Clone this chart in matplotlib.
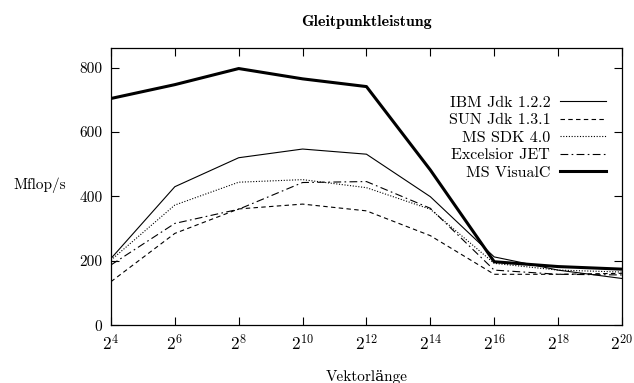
import math
import matplotlib
matplotlib.use("Agg")
import matplotlib.pyplot as plt
from matplotlib.ticker import FixedLocator, FuncFormatter, NullLocator

plt.rcParams['font.family'] = ['cmr10', 'DejaVu Serif']
plt.rcParams['mathtext.fontset'] = 'cm'
plt.rcParams['axes.unicode_minus'] = False

exponents = [4, 6, 8, 10, 12, 14, 16, 18, 20]
ibm = [207, 430, 520, 547, 531, 399, 212, 171, 145]
sun = [135, 285, 361, 376, 355, 278, 158, 158, 161]
mssdk = [202, 373, 444, 452, 427, 360, 192, 171, 165]
excelsior = [187, 316, 360, 443, 446, 363, 171, 158, 156]
visualc = [704, 747, 797, 765, 741, 482, 197, 182, 174]
labels = ["IBM Jdk 1.2.2", "SUN Jdk 1.3.1", "MS SDK 4.0", "Excelsior JET", "MS VisualC"]
yticks = [0, 200, 400, 600, 800]

x = [2 ** e for e in exponents]

fig = plt.figure(figsize=(6.34, 3.83), dpi=100)
ax = fig.add_axes([0.175, 0.151, 0.806, 0.723])

ax.plot(x, ibm, color='black', lw=0.8, ls='-', label=labels[0])
ax.plot(x, sun, color='black', lw=0.8, ls=(0, (4, 3)), label=labels[1])
ax.plot(x, mssdk, color='black', lw=0.8, ls=(0, (1, 1.5)), label=labels[2])
ax.plot(x, excelsior, color='black', lw=0.8, ls=(0, (7, 3, 1.5, 3)), label=labels[3])
ax.plot(x, visualc, color='black', lw=2.2, ls='-', label=labels[4])

ax.set_xscale('log', base=2)
ax.set_xlim(x[0], x[-1])
ax.set_ylim(0, 860)
ax.xaxis.set_major_locator(FixedLocator(x))
ax.xaxis.set_minor_locator(NullLocator())
ax.xaxis.set_major_formatter(FuncFormatter(lambda v, p: r'$2^{%d}$' % round(math.log2(v))))
ax.set_yticks(yticks)
ax.tick_params(axis='both', which='both', direction='in', top=True, right=True, length=6, width=0.8)
ax.tick_params(axis='x', labelsize=12.5, pad=6)
ax.tick_params(axis='y', labelsize=11, pad=6)
for s in ax.spines.values():
    s.set_linewidth(0.9)

ax.set_title('Gleitpunktleistung', fontfamily='cmb10', fontsize=11.5, pad=16)
ax.set_xlabel('Vektorlänge', fontsize=11, labelpad=12)
ax.set_ylabel('Mflop/s', fontsize=11, rotation=0, va='center', ha='center')
ax.yaxis.set_label_coords(-0.14, 0.505)

leg = ax.legend(loc='upper right', bbox_to_anchor=(0.997, 0.88), frameon=False, markerfirst=False,
                fontsize=11.5, handlelength=2.9, labelspacing=0.2, handletextpad=0.6)
for t in leg.get_texts():
    t.set_ha('right')

fig.savefig('out.png', dpi=100)
